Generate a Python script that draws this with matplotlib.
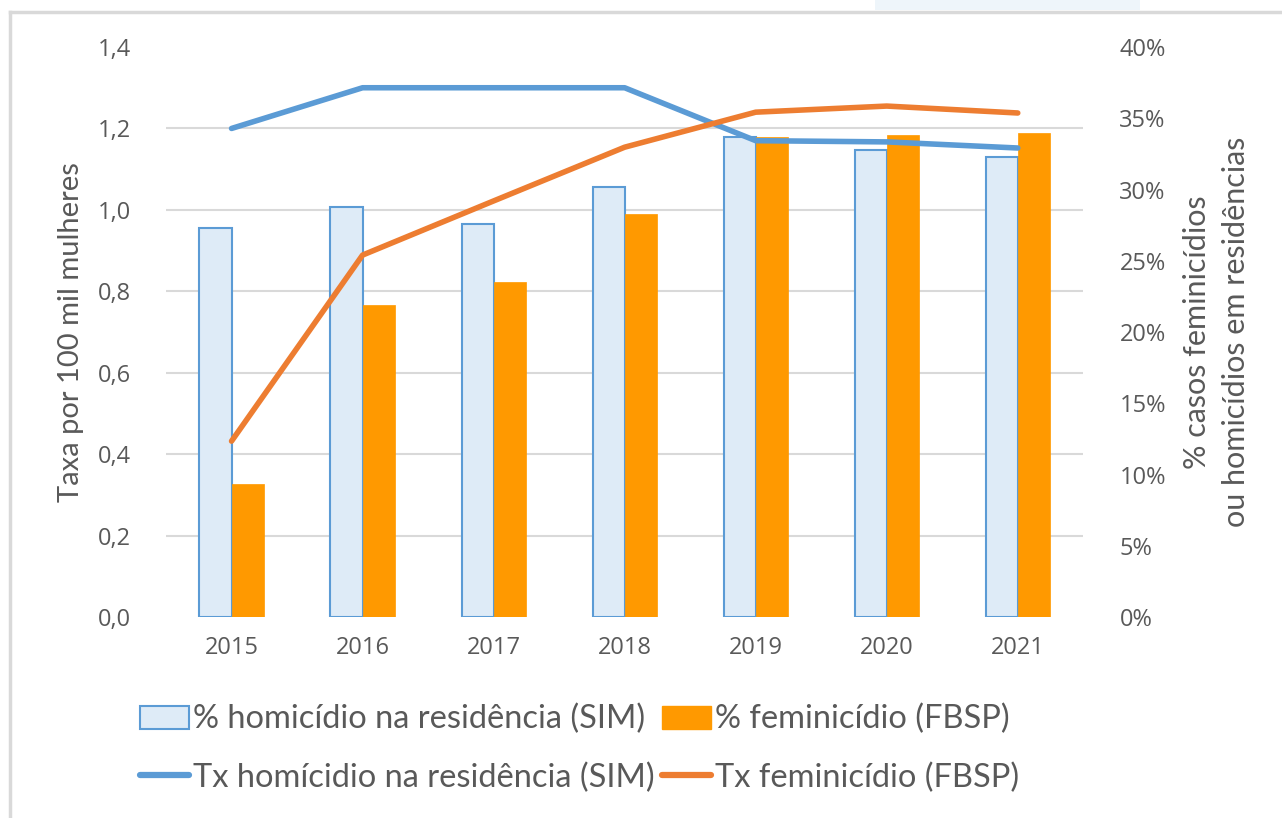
import matplotlib.pyplot as plt
from matplotlib.patches import Rectangle
from matplotlib.lines import Line2D
import numpy as np

anos = ["2015", "2016", "2017", "2018", "2019", "2020", "2021"]

# % (eixo direito)
pct_homicidio_sim = [27.3, 28.8, 27.6, 30.2, 33.7, 32.8, 32.3]
pct_feminicidio_fbsp = [9.3, 21.9, 23.5, 28.3, 33.7, 33.8, 34.0]

# taxas por 100 mil mulheres (eixo esquerdo)
tx_homicidio_sim = [1.20, 1.30, 1.30, 1.30, 1.17, 1.167, 1.152]
tx_feminicidio_fbsp = [0.432, 0.889, 1.022, 1.154, 1.24, 1.255, 1.238]

left_ticks = [0.0, 0.2, 0.4, 0.6, 0.8, 1.0, 1.2, 1.4]
right_ticks = [0, 5, 10, 15, 20, 25, 30, 35, 40]

txt = "#595959"
azul = "#5b9bd5"
laranja = "#ed7d31"

fig = plt.figure(figsize=(12.82, 8.18), dpi=100)
ax = fig.add_axes([0.1295, 0.2457, 0.7155, 0.6968])
ax2 = ax.twinx()

x = np.arange(len(anos))
w = 0.245

# barras no eixo direito
ax2.bar(x - w / 2, pct_homicidio_sim, w, color="#deebf7", edgecolor=azul, linewidth=1.5, zorder=2)
ax2.bar(x + w / 2, pct_feminicidio_fbsp, w, color="#ff9900", edgecolor="#ff9900", linewidth=0.5, zorder=2)
ax2.set_ylim(0, 40)
ax2.set_yticks(right_ticks)
ax2.set_yticklabels([f"{v}%" for v in right_ticks])
# grade segue o eixo esquerdo, mas fica atrás das barras
ax2.set_yticks([v / 1.4 * 40 for v in left_ticks], minor=True)
ax2.grid(axis="y", which="minor", color="#d9d9d9", linewidth=1.5, zorder=0)
ax2.grid(axis="y", which="major", visible=False)
ax2.set_axisbelow(True)

# linhas no eixo esquerdo, desenhadas por cima
ax.set_zorder(ax2.get_zorder() + 1)
ax.patch.set_visible(False)
ax.plot(x, tx_homicidio_sim, color=azul, linewidth=4, solid_capstyle="round", solid_joinstyle="round")
ax.plot(x, tx_feminicidio_fbsp, color=laranja, linewidth=4, solid_capstyle="round", solid_joinstyle="round")
ax.set_ylim(0, 1.4)
ax.set_yticks(left_ticks)
ax.set_yticklabels([f"{v:.1f}".replace(".", ",") for v in left_ticks])
ax.set_xlim(-0.5, len(anos) - 0.5)
ax.set_xticks(x)
ax.set_xticklabels(anos)

for a in (ax, ax2):
    for s in a.spines.values():
        s.set_visible(False)
    a.tick_params(which="both", length=0, labelsize=17, labelcolor=txt)
    for lab in a.get_xticklabels() + a.get_yticklabels():
        lab.set_family("Open Sans")
ax.tick_params(axis="y", pad=25)
ax2.tick_params(axis="y", pad=26)
ax.tick_params(axis="x", pad=14)

ax.set_ylabel("Taxa por 100 mil mulheres", fontsize=21, color=txt, family="Lato", labelpad=10)
ax2.set_ylabel("% casos feminicídios\nou homicídios em residências", fontsize=22, color=txt,
               family="Lato", labelpad=12, linespacing=1.5)

handles = [
    Rectangle((0, 0), 1, 1, facecolor="#deebf7", edgecolor=azul, linewidth=1.5),
    Line2D([0], [0], color=azul, linewidth=4.5, solid_capstyle="round"),
    Rectangle((0, 0), 1, 1, facecolor="#ff9900", edgecolor="#ff9900"),
    Line2D([0], [0], color=laranja, linewidth=4.5, solid_capstyle="round"),
]
labels = [
    "% homicídio na residência (SIM)",
    "Tx homícidio na residência (SIM)",
    "% feminicídio (FBSP)",
    "Tx feminicídio (FBSP)",
]
leg = fig.legend(handles, labels, ncol=2, loc="center", bbox_to_anchor=(0.452, 0.085),
                 frameon=False, prop={"family": "Lato", "size": 23.5}, labelcolor=txt,
                 handlelength=1.5, handletextpad=0.1, columnspacing=0.25, labelspacing=0.85)

# moldura do gráfico e caixa cortada no topo
fig.add_artist(Line2D([10 / 1282, 1], [1 - 11.5 / 818, 1 - 11.5 / 818], color="#d9d9d9", linewidth=2.5,
                      transform=fig.transFigure))
fig.add_artist(Line2D([10 / 1282, 10 / 1282], [0, 1 - 11.5 / 818], color="#d9d9d9", linewidth=2.5,
                      transform=fig.transFigure))
fig.add_artist(Rectangle((875 / 1282, 1 - 10 / 818), 265 / 1282, 10 / 818, facecolor="#eef5fa",
                         edgecolor="none", transform=fig.transFigure))

plt.savefig("out.png", dpi=100)
